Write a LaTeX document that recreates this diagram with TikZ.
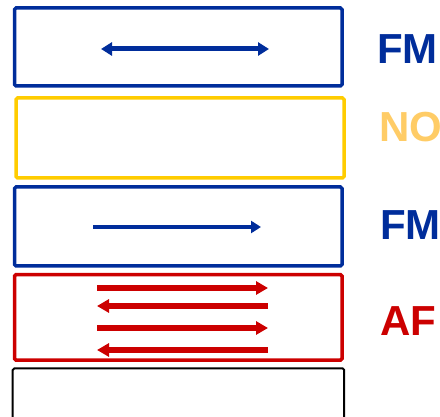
\documentclass[tikz,border=0pt]{standalone}
\usepackage{fontspec}
\setmainfont{Liberation Sans}
\usetikzlibrary{arrows.meta}
\definecolor{fmblue}{RGB}{0,45,155}
\definecolor{noyel}{RGB}{255,204,0}
\definecolor{notxt}{RGB}{255,204,102}
\definecolor{afred}{RGB}{204,0,0}
\tikzset{
  layer/.style={draw, rounded corners=1.5pt, inner sep=0pt, outer sep=0pt, anchor=north west},
  lbl/.style={font=\fontsize{42}{42}\selectfont\bfseries, inner sep=0pt, anchor=west},
  redarrow/.style={afred, line width=5.5pt, -{Triangle[length=12pt,width=13pt]}},
}
\begin{document}
\begin{tikzpicture}[x=1pt,y=-1pt]
\useasboundingbox (0,0) rectangle (440,417);
\clip (0,0) rectangle (440,417);
% layers
\node[layer, fmblue, line width=3.5pt, minimum width=327.5pt, minimum height=78pt] (b1) at (14.5,8) {};
\node[layer, noyel, line width=3.5pt, minimum width=328pt, minimum height=80pt] (b2) at (16,98) {};
\node[layer, fmblue, line width=3.5pt, minimum width=327.5pt, minimum height=79pt] (b3) at (14.5,187) {};
\node[layer, afred, line width=3.5pt, minimum width=327.5pt, minimum height=85.5pt] (b4) at (14.5,274.7) {};
\node[layer, black, line width=2pt, minimum width=331.5pt, minimum height=80pt] (b5) at (12.7,368.5) {};
% labels
\node[lbl, text=fmblue] (l1) at (377,49) {FM};
\node[lbl, text=notxt] (l2) at (379,127) {NO};
\node[lbl, text=fmblue] (l3) at (380,225) {FM};
\node[lbl, text=afred] (l4) at (380,321) {AF};
% arrow end points
\coordinate (a1s) at (101,49); \coordinate (a1e) at (269,49);
\coordinate (a3s) at (93,227); \coordinate (a3e) at (261,227);
\coordinate (r1s) at (97,288); \coordinate (r1e) at (268,288);
\coordinate (r2s) at (268,306); \coordinate (r2e) at (97,306);
\coordinate (r3s) at (97,328); \coordinate (r3e) at (268,328);
\coordinate (r4s) at (268,350); \coordinate (r4e) at (97,350);
% arrows
\draw[fmblue, line width=5pt, {Triangle[length=11pt,width=13pt]}-{Triangle[length=11pt,width=13pt]}] (a1s) -- (a1e);
\draw[fmblue, line width=3.5pt, -{Triangle[length=10pt,width=12pt]}] (a3s) -- (a3e);
\draw[redarrow] (r1s) -- (r1e);
\draw[redarrow] (r2s) -- (r2e);
\draw[redarrow] (r3s) -- (r3e);
\draw[redarrow] (r4s) -- (r4e);
\end{tikzpicture}
\end{document}
